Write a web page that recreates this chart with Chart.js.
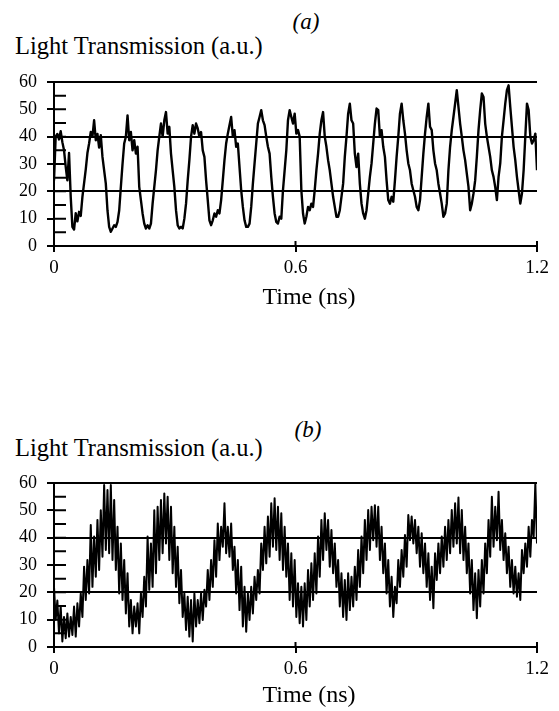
<!DOCTYPE html>
<html>
<head>
<meta charset="utf-8">
<script src="https://cdn.jsdelivr.net/npm/chart.js@4.4.1/dist/chart.umd.min.js"></script>
<style>
  body { margin: 0; background: #fff; }
  #page { position: relative; width: 559px; height: 711px; overflow: hidden; font-family: "Liberation Serif", "Times New Roman", serif; color: #000; }
  canvas { position: absolute; left: 0; }
  .lbl { position: absolute; line-height: 1; white-space: nowrap; }
  .panel-tag { font-style: italic; font-size: 23px; transform: translate(-50%, -50%); }
  .ylab { font-size: 24.5px; transform: translateY(-50%); left: 15px; }
  .xlab { font-size: 24px; transform: translate(-50%, -50%); }
</style>
</head>
<body>
<div id="page">
  <div class="lbl panel-tag" style="left:306px; top:21px;">(a)</div>
  <div class="lbl ylab" style="top:46px;">Light Transmission (a.u.)</div>
  <canvas id="chart-a" width="559" height="290" style="top:0px;"></canvas>
  <div class="lbl xlab" style="left:309px; top:296px;">Time (ns)</div>

  <div class="lbl panel-tag" style="left:308px; top:429px;">(b)</div>
  <div class="lbl ylab" style="top:448px;">Light Transmission (a.u.)</div>
  <canvas id="chart-b" width="559" height="290" style="top:401px;"></canvas>
  <div class="lbl xlab" style="left:309px; top:694px;">Time (ns)</div>
</div>
<script>
// time span of both traces (ns), samples are evenly spaced over it
const TIME_SPAN = 1.2;

const xTickValues = [0, 0.6, 1.2];
const xTickLabels = ["0", "0.6", "1.2"];

const yTickValues = [0, 5, 10, 15, 20, 25, 30, 35, 40, 45, 50, 55, 60];
const yLabelled = [0, 10, 20, 30, 40, 50, 60];
const yRuled = [0, 20, 40, 60];

// (a) light transmission, a.u.
const valuesA = [
  24, 40, 41, 39, 42, 38, 35, 29, 24, 34,
  18, 7, 6, 12, 9, 12.5, 11, 18, 23, 28,
  34, 37.5, 41.7, 40, 46, 38.7, 41, 36, 40.5, 32.6,
  27.7, 22.8, 13, 7, 5.2, 6.4, 7.6, 7, 8.8, 13,
  21.6, 30, 37.5, 40, 47.8, 38.7, 41.7, 35, 38.7, 33.8,
  36.3, 21.6, 16.8, 11.9, 8.2, 6.4, 7.6, 6.4, 8.2, 15.5,
  21.6, 27.7, 35, 40, 44.8, 40, 46, 49, 41.1, 43.6,
  33.8, 27.7, 21.6, 13.1, 7.6, 6.4, 7, 6.4, 10, 15.5,
  24, 31.4, 40, 44.2, 41.1, 44.8, 43, 40, 41.7, 35,
  32.6, 24, 16.8, 9.4, 7.6, 9.4, 11.9, 10.7, 13.1, 11.9,
  16.8, 24, 31.4, 37.5, 41.1, 44.2, 47.2, 40, 42.4, 36.3,
  37.5, 28.9, 20.4, 14.3, 9.4, 7, 7, 8.2, 14.3, 22.8,
  30.2, 37.5, 44.8, 47.2, 49.7, 46, 44.2, 40, 36.3, 33.8,
  25.3, 18, 11.9, 8.8, 8.2, 10.7, 10, 20.4, 27.7, 35,
  46, 49.7, 47.2, 44.8, 48.4, 41.1, 42.4, 40,
  20.4, 11.9, 8.2, 10.7, 14.3, 13.1, 15.5, 14.3, 20.4, 27.7,
  33.8, 41.1, 46, 49, 40, 36.3, 31.4, 27.7, 22.8, 18,
  14.3, 10.7, 10.7, 13.1, 18, 22.8, 32.6, 40, 48.4, 52.1,
  46, 44.8, 33.8, 28.9, 33.8, 22.8, 15.5, 11.9, 10, 13.1,
  19.2, 25.3, 30.2, 37.5, 44.8, 50.3, 49.7, 40, 42.4, 36.3,
  32.6, 24, 16.8, 15.5, 18, 16.2, 24, 32.6, 40, 48.4,
  52.1, 46, 41.1, 35, 30.2, 27.7, 22.8, 20.4, 18, 14.3,
  13.1, 16.8, 25.3, 33.8, 41.1, 47.2, 52.1, 43.6, 42.4, 35,
  30.2, 27.7, 22.8, 19.2, 15.5, 10.7, 11.9, 15.5, 27.7, 36.3,
  42.4, 47.2, 52.1, 57, 50.9, 44.8, 40, 35, 31.4, 26.5,
  21.6, 13.1, 15.5, 19.2, 24, 32.6, 42.4, 49.7, 55.8, 54.5,
  44.8, 40, 36.3, 32.6, 27.7, 25.3, 21.6, 16.8, 25.3, 30.2,
  40, 46, 52.1, 57, 58.8, 50.9, 43.6, 36.3, 31.4, 25.3,
  20.4, 15.5, 19.2, 27.7, 40, 52.1, 49.7, 40, 37.5, 38.7,
  41.1, 27.7
];

// (b) light transmission, a.u. (fast jitter: upper / lower edge of the band)
const valuesB = [
  22, 10, 17, 5, 15, 2, 11, 3.2, 12.3, 3.8,
  11, 4.4, 14.8, 3.8, 16, 7.5, 19.6, 11, 29.4, 17.2,
  31.8, 19.6, 44.6, 22, 40.4, 25.7, 46.5, 28.2, 50, 33,
  59.3, 35.5, 57.4, 34.3, 59.3, 31.8, 53.8, 28.2, 44, 19.6,
  37.9, 17.2, 31.8, 12.3, 27, 7.5, 17.2, 5, 14.8, 7.5,
  16, 5, 19.6, 11, 25.7, 14.8, 40.4, 20.9, 37.9, 22,
  50, 27, 51.3, 31.8, 53.8, 34.3, 56.2, 37.9, 55, 31.8,
  51.3, 27, 44, 22, 36.7, 16, 28.2, 11, 19.6, 6.2,
  18.4, 3.8, 17.2, 2, 19.6, 7.5, 17.2, 8.7, 19.6, 9.9,
  20.9, 14.8, 28.2, 17.2, 31.8, 22, 39.1, 25.7, 45.2, 31.8,
  44, 36.7, 52.6, 34.3, 44, 33, 45.2, 28.2, 36.7, 19.6,
  31.8, 13.5, 29.4, 7.5, 22, 5.6, 19.6, 9.9, 22, 12.3,
  25.7, 17.2, 28.2, 19.6, 37.9, 28.2, 44, 30.6, 47.7, 33,
  52.6, 36.7, 54.4, 35.5, 51.3, 31.8, 48.9, 28.2, 44, 25.7,
  37.9, 17.2, 34.3, 14.8, 31.8, 11, 23.3, 8.7, 22,
  7.5, 23.3, 9.9, 28.2, 14.8, 30.6, 17.2, 34.3, 19.6, 40.4,
  25.7, 46.5, 31.8, 48.9, 35.5, 46.5, 29.4, 42.8, 27, 37.9,
  22, 31.8, 14.8, 27, 11, 24.5, 9.9, 27, 13.5, 25.7,
  14.8, 29.4, 17.2, 35.5, 22, 40.4, 27, 46.5, 31.8, 50.1,
  35.5, 51.3, 39.1, 51.9, 36.7, 51.3, 31.8, 44, 27, 37.9,
  19.6, 31.8, 14.8, 25.7, 11, 22, 16, 31.8, 22, 35.5,
  25.7, 41, 29.4, 48.3, 39.1, 47.7, 37.9, 46.5, 34.3, 44,
  29.4, 41.6, 27, 37.9, 22, 34.3, 17.2, 29.4, 14.2, 34.3,
  24.5, 37.9, 27, 40.4, 29.4, 44, 31.8, 46.5, 34.3, 50.1,
  36.7, 52.6, 37.9, 54.7, 34.3, 50.1, 31.8, 44, 27, 37.9,
  19.6, 31.8, 13.5, 27, 10.5, 28.2, 14.8, 31.8, 19.6, 37.9,
  27, 46.5, 33, 55, 36.7, 51.3, 39.1, 56.8, 35.5, 46.5,
  31.8, 41.6, 27, 36.7, 22, 31.8, 19.6, 29.4, 18.4, 27,
  17.2, 35.5, 27, 37.9, 29.4, 44, 33, 46.5, 40.4, 59.9,
  37.9
];

const BLACK = "#000";
const NONE = "rgba(0,0,0,0)";

Chart.defaults.font.family = '"Liberation Serif", "Times New Roman", serif';
Chart.defaults.color = BLACK;

// short tick marks pointing into the plot (left axis and time axis)
const innerTicks = {
  id: "innerTicks",
  beforeDatasetsDraw(chart) {
    const { ctx, chartArea, scales } = chart;
    ctx.save();
    ctx.strokeStyle = BLACK;
    ctx.lineWidth = 2;
    ctx.beginPath();
    yTickValues.forEach((v) => {
      const py = scales.y.getPixelForValue(v);
      ctx.moveTo(chartArea.left, py);
      ctx.lineTo(chartArea.left + 12, py);
    });
    xTickValues.forEach((v) => {
      const px = scales.x.getPixelForValue(v);
      ctx.moveTo(px, chartArea.bottom);
      ctx.lineTo(px, chartArea.bottom - 5);
    });
    ctx.stroke();
    ctx.restore();
  }
};

function criarGrafico(id, values, lineWidth) {
  const points = values.map((v, i) => ({ x: i * TIME_SPAN / (values.length - 1), y: v }));

  return new Chart(document.getElementById(id), {
    type: "line",
    data: {
      datasets: [{
        data: points,
        borderColor: BLACK,
        borderWidth: lineWidth,
        borderJoinStyle: "round",
        pointRadius: 0,
        tension: 0,
        fill: false
      }]
    },
    options: {
      responsive: false,
      animation: false,
      devicePixelRatio: 1,
      layout: { padding: { left: 0, right: 22, top: 82, bottom: 0 } },
      plugins: {
        legend: { display: false },
        tooltip: { enabled: false }
      },
      scales: {
        x: {
          type: "linear",
          min: 0,
          max: TIME_SPAN,
          afterBuildTicks: (axis) => { axis.ticks = xTickValues.map((v) => ({ value: v })); },
          afterFit: (axis) => { axis.height = 44; },
          ticks: {
            callback: (value) => xTickLabels[xTickValues.indexOf(value)],
            font: { size: 19 },
            padding: 5,
            maxRotation: 0
          },
          grid: {
            drawOnChartArea: false,
            color: BLACK,
            lineWidth: 2,
            tickLength: 6
          },
          border: { display: true, color: BLACK, width: 2 }
        },
        y: {
          min: 0,
          max: 60,
          afterBuildTicks: (axis) => { axis.ticks = yTickValues.map((v) => ({ value: v })); },
          afterFit: (axis) => { axis.width = 54; },
          ticks: {
            callback: (value) => yLabelled.includes(value) ? String(value) : "",
            font: { size: 18 },
            padding: 10
          },
          grid: {
            color: (c) => yRuled.includes(c.tick.value) ? BLACK : NONE,
            tickColor: (c) => yLabelled.includes(c.tick.value) ? BLACK : NONE,
            lineWidth: 2,
            tickLength: 7
          },
          border: { display: true, color: BLACK, width: 2 }
        }
      }
    },
    plugins: [innerTicks]
  });
}

criarGrafico("chart-a", valuesA, 2.4);
criarGrafico("chart-b", valuesB, 2);
</script>
</body>
</html>
